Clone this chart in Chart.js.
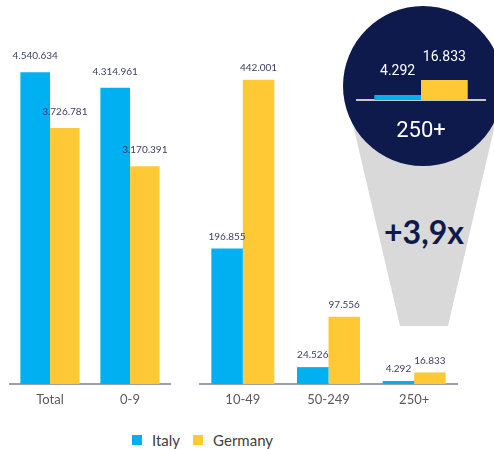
<!DOCTYPE html>
<html>
<head>
<meta charset="utf-8">
<script src="https://cdn.jsdelivr.net/npm/chart.js@4.4.1/dist/chart.umd.min.js"></script>
<style>
    html, body { margin: 0; padding: 0; background: #ffffff; }
    #lienzo { position: relative; width: 494px; height: 449px; overflow: hidden; font-family: Lato, sans-serif; }
    #embudo { position: absolute; left: 0; top: 0; width: 494px; height: 449px; background: #d9d9d9;
              clip-path: polygon(344px 86px, 504px 86px, 448px 326px, 400px 326px); }
    #circulo { position: absolute; left: 343px; top: 6px; width: 160px; height: 160px; border-radius: 50%; background: #0d1a4b; }
    #factor { position: absolute; left: 364px; top: 214px; width: 120px; text-align: center; font: bold 32px Lato, sans-serif; color: #0d1a4b; line-height: 36px; }
    canvas { position: absolute; }
    #grafico-izq { left: 0; top: 0; }
    #grafico-der { left: 190px; top: 0; }
    #grafico-zoom { left: 340px; top: 30px; }
    #leyenda { position: absolute; left: 132px; top: 431px; display: flex; align-items: center; font-size: 15px; color: #404040; }
    #leyenda span.cuadro { display: inline-block; width: 10px; height: 10px; margin-right: 10px; }
    #leyenda span.texto { margin-right: 13px; }
</style>
</head>
<body>
<div id="lienzo">
    <div id="embudo"></div>
    <div id="circulo"></div>
    <div id="factor">+3,9x</div>
    <canvas id="grafico-izq" width="180" height="420"></canvas>
    <canvas id="grafico-der" width="280" height="420"></canvas>
    <canvas id="grafico-zoom" width="154" height="125"></canvas>
    <div id="leyenda">
        <span class="cuadro" style="background:#00b0f0"></span><span class="texto">Italy</span>
        <span class="cuadro" style="background:#ffc935"></span><span class="texto">Germany</span>
    </div>
</div>
<script>
// Datos: empresas por clase de tamaño
const categoriasIzq = ['Total', '0-9'];
const italiaIzq = [4540634, 4314961];
const alemaniaIzq = [3726781, 3170391];

const categoriasDer = ['10-49', '50-249', '250+'];
const italiaDer = [196855, 24526, 4292];
const alemaniaDer = [442001, 97556, 16833];

const categoriasZoom = ['250+'];
const italiaZoom = [4292];
const alemaniaZoom = [16833];

const colorItalia = '#00b0f0';
const colorAlemania = '#ffc935';

// Formato con puntos de miles
function formatearNumero(valor) {
    return String(valor).replace(/\B(?=(\d{3})+(?!\d))/g, '.');
}

// Plugin para escribir el valor encima de cada barra
const pluginEtiquetas = {
    id: 'etiquetas',
    afterDatasetsDraw(chart, args, opciones) {
        const ctx = chart.ctx;
        ctx.save();
        ctx.font = opciones.font;
        ctx.fillStyle = opciones.color;
        ctx.textAlign = 'center';
        ctx.textBaseline = 'middle';
        chart.data.datasets.forEach(function (dataset, i) {
            chart.getDatasetMeta(i).data.forEach(function (barra, j) {
                ctx.fillText(formatearNumero(dataset.data[j]), barra.x, barra.y - opciones.offset);
            });
        });
        ctx.restore();
    }
};

function crearGrafico(id, categorias, italia, alemania, conf) {
    const ctx = document.getElementById(id).getContext('2d');
    return new Chart(ctx, {
        type: 'bar',
        data: {
            labels: categorias,
            datasets: [
                { label: 'Italy', data: italia, backgroundColor: colorItalia },
                { label: 'Germany', data: alemania, backgroundColor: colorAlemania }
            ]
        },
        options: {
            responsive: false,
            animation: false,
            categoryPercentage: conf.ancho,
            barPercentage: 1,
            layout: { padding: conf.padding },
            scales: {
                x: {
                    grid: { display: false, drawTicks: false },
                    border: { display: true, color: conf.colorEje, width: 2 },
                    ticks: { color: conf.colorTexto, font: conf.fuenteEje, padding: conf.paddingEje },
                    afterFit: function (escala) { escala.height = conf.altoEje; }
                },
                y: { display: false, min: 0, max: conf.max }
            },
            plugins: {
                legend: { display: false },
                tooltip: { enabled: false },
                etiquetas: conf.etiquetas
            }
        },
        plugins: [pluginEtiquetas]
    });
}

crearGrafico('grafico-izq', categoriasIzq, italiaIzq, alemaniaIzq, {
    ancho: 0.74,
    padding: { left: 10, right: 10, top: 20, bottom: 6 },
    max: 5300000,
    colorEje: '#9aa0ae',
    colorTexto: '#595959',
    fuenteEje: { family: 'Lato', size: 13 },
    paddingEje: 8,
    altoEje: 30,
    etiquetas: { font: '10px Lato', color: '#3c4166', offset: 16 }
});

crearGrafico('grafico-der', categoriasDer, italiaDer, alemaniaDer, {
    ancho: 0.735,
    padding: { left: 10, right: 13, top: 26, bottom: 6 },
    max: 520000,
    colorEje: '#9aa0ae',
    colorTexto: '#595959',
    fuenteEje: { family: 'Lato', size: 13 },
    paddingEje: 8,
    altoEje: 30,
    etiquetas: { font: '10px Lato', color: '#3c4166', offset: 12 }
});

// Detalle ampliado dentro del círculo
crearGrafico('grafico-zoom', categoriasZoom, italiaZoom, alemaniaZoom, {
    ancho: 0.73,
    padding: { left: 17, right: 9, top: 0, bottom: 5 },
    max: 59000,
    colorEje: '#c8c8c8',
    colorTexto: '#ffffff',
    fuenteEje: { family: 'Roboto', size: 22 },
    paddingEje: 18,
    altoEje: 50,
    etiquetas: { font: '14px Roboto', color: '#ffffff', offset: 23 }
});
</script>
</body>
</html>
